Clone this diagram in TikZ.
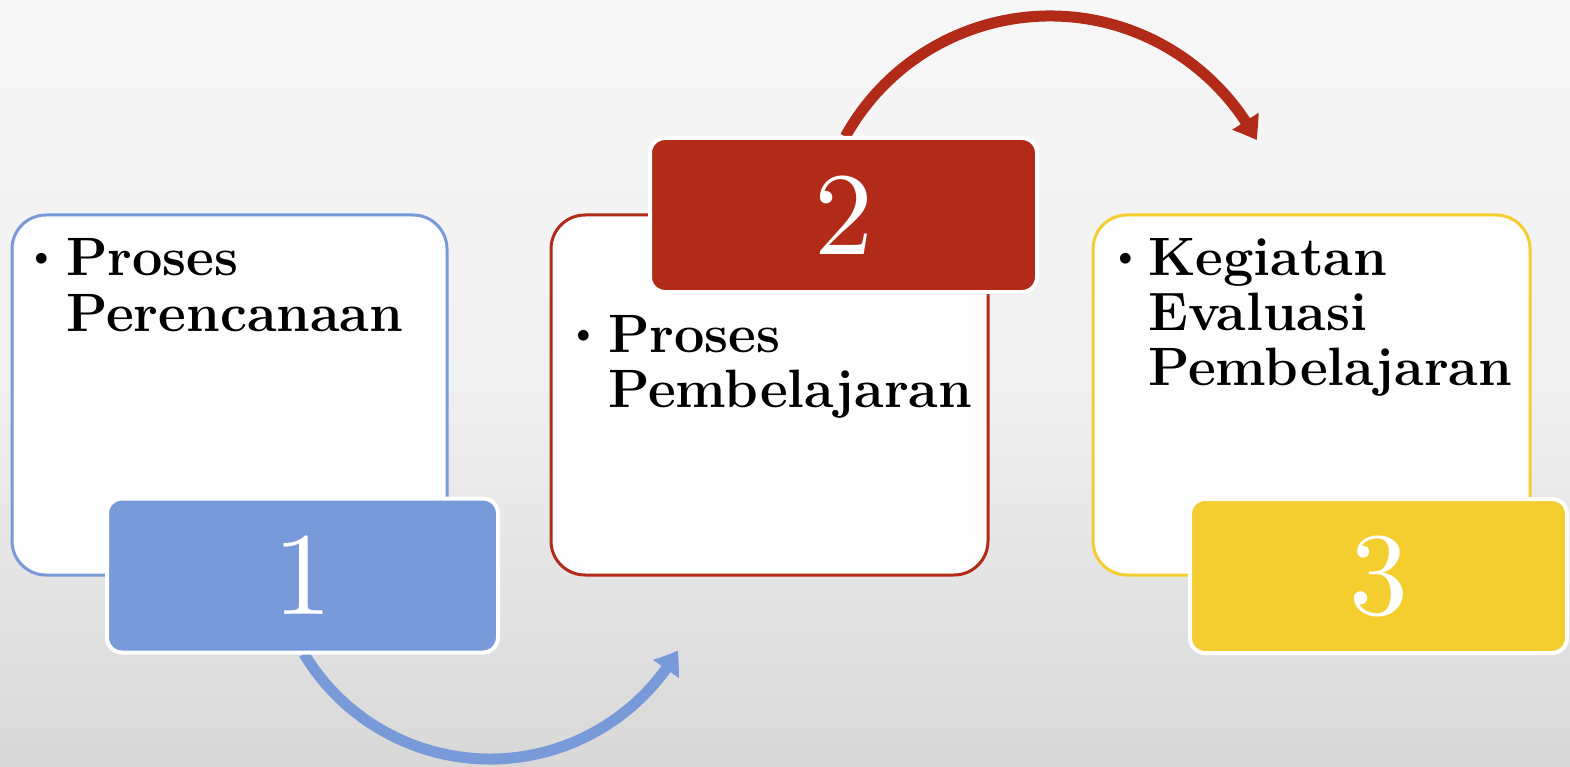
\documentclass[tikz,border=0pt]{standalone}
\usepackage{fontspec}
\newfontfamily\digitfont{lmroman10-regular.otf}
\usetikzlibrary{arrows.meta,bending}
\definecolor{cblue}{RGB}{120,154,216}
\definecolor{cred}{RGB}{178,43,24}
\definecolor{cyel}{RGB}{244,205,46}
\definecolor{bgtop}{RGB}{247,247,247}
\definecolor{bgmid}{RGB}{240,240,240}
\definecolor{bgbot}{RGB}{216,216,216}
\definecolor{boxfill}{RGB}{253,253,253}
\begin{document}
\begin{tikzpicture}[x=1pt,y=-1pt,
  bigbox/.style={draw=#1, line width=3pt, fill=boxfill, rounded corners=34pt,
    minimum width=436pt, minimum height=360pt, inner sep=0pt},
  lblbox/.style={draw=white, fill=#1, line width=4pt, rounded corners=15pt,
    minimum height=154pt, inner sep=0pt, text=white,
    font=\digitfont\fontsize{118}{118}\selectfont},
  itemtext/.style={anchor=base west, inner sep=0pt,
    font=\fontsize{54}{55}\selectfont\bfseries},
  bul/.style={anchor=base, inner sep=0pt, font=\fontsize{48}{48}\selectfont},
  flow/.style={draw=#1, line width=11pt,
    -{Triangle[width=30pt,length=22pt,bend]}}
]
\useasboundingbox (0,0) rectangle (1570,767);
\shade[top color=bgtop, bottom color=bgbot, middle color=bgmid] (0,0) rectangle (1570,767);

% main boxes
\node[bigbox=cblue, minimum width=435pt] (b1) at (229.5,395) {};
\node[bigbox=cred, minimum width=437pt] (b2) at (769.5,395) {};
\node[bigbox=cyel, minimum width=437pt] (b3) at (1311.5,395) {};

% texts
\node[bul] (u1) at (42,272) {\textbullet};
\node[itemtext] (t1) at (66,276) {\parbox[t]{400pt}{\raggedright Proses\\Perencanaan}};
\node[bul] (u2) at (584,348) {\textbullet};
\node[itemtext] (t2) at (608,352) {\parbox[t]{400pt}{\raggedright Proses\\Pembelajaran}};
\node[bul] (u3) at (1126,271) {\textbullet};
\node[itemtext] (t3) at (1148,275) {\parbox[t]{400pt}{\raggedright Kegiatan\\Evaluasi\\Pembelajaran}};

% arrows (drawn under the number boxes)
\coordinate (bc) at (490,542);
\coordinate (rc) at (1050,250);
\draw[flow=cblue] (bc) ++(211:217pt) coordinate (bs) arc[start angle=211, end angle=330, radius=217pt];
\draw[flow=cred] (rc) ++(151:234pt) coordinate (rs) arc[start angle=151, end angle=28, radius=234pt];

% number boxes
\node[lblbox=cblue, minimum width=391pt] (n1) at (302.5,575.5) {1};
\node[lblbox=cred, minimum width=387pt] (n2) at (843.5,215) {2};
\node[lblbox=cyel, minimum width=377pt] (n3) at (1378.5,576) {3};
\end{tikzpicture}
\end{document}
